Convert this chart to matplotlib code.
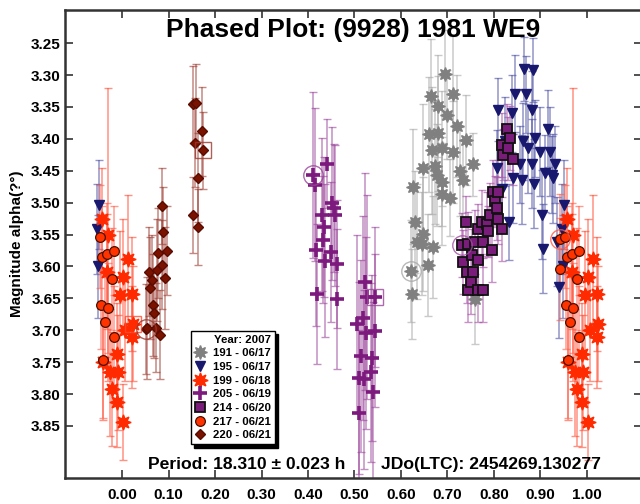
# phased light curve of (9928) 1981 WE9, 2007 sessions
import numpy as np
import matplotlib
matplotlib.use("Agg")
import matplotlib.pyplot as plt
from matplotlib.lines import Line2D

plt.rcParams['font.family'] = ['Liberation Sans', 'DejaVu Sans']
plt.rcParams['font.weight'] = 'bold'

# window of phases that are drawn (data near 0/1 is repeated)
x_show = (-0.055, 1.045)

# session 191 - 06/17
ph_191 = [0.622, 0.624, 0.626, 0.630, 0.634, 0.645, 0.647, 0.647, 0.658, 0.660, 0.665,
          0.667, 0.669, 0.673, 0.677, 0.680, 0.680, 0.688, 0.688, 0.688, 0.695, 0.699,
          0.705, 0.712, 0.712, 0.720, 0.727, 0.733, 0.740, 0.755, 0.759]
mag_191 = [3.607, 3.643, 3.475, 3.530, 3.561, 3.564, 3.446, 3.549, 3.597, 3.393, 3.333,
           3.418, 3.569, 3.443, 3.456, 3.349, 3.391, 3.415, 3.467, 3.487, 3.299, 3.362,
           3.492, 3.329, 3.420, 3.380, 3.451, 3.464, 3.402, 3.440, 3.651]
err_191 = [0.08, 0.07, 0.09, 0.08, 0.09, 0.08, 0.10, 0.09, 0.08, 0.09, 0.09,
           0.10, 0.08, 0.09, 0.08, 0.08, 0.09, 0.09, 0.07, 0.08, 0.07, 0.07,
           0.06, 0.09, 0.08, 0.08, 0.07, 0.06, 0.07, 0.05, 0.07]

# session 195 - 06/17
ph_195 = [0.806, 0.809, 0.817, 0.824, 0.832, 0.839, 0.841, 0.845, 0.856, 0.860, 0.862,
          0.865, 0.869, 0.873, 0.882, 0.882, 0.884, 0.886, 0.888, 0.899, 0.903, 0.905,
          0.910, 0.916, 0.920, 0.925, 0.927, 0.931, 0.935, 0.940, 0.950, 0.947, 0.948]
mag_195 = [3.446, 3.354, 3.478, 3.404, 3.530, 3.360, 3.462, 3.329, 3.440, 3.464, 3.404,
           3.291, 3.330, 3.415, 3.354, 3.439, 3.292, 3.470, 3.399, 3.420, 3.519, 3.572,
           3.454, 3.384, 3.420, 3.456, 3.462, 3.440, 3.561, 3.632, 3.503, 3.541, 3.600]
err_195 = [0.06, 0.05, 0.06, 0.07, 0.06, 0.06, 0.07, 0.06, 0.06, 0.07, 0.06,
           0.05, 0.06, 0.07, 0.06, 0.07, 0.05, 0.07, 0.06, 0.07, 0.07, 0.07,
           0.06, 0.06, 0.07, 0.06, 0.07, 0.06, 0.07, 0.08, 0.07, 0.07, 0.08]

# session 199 - 06/18
ph_199 = [0.957, 0.959, 0.968, 0.970, 0.974, 0.978, 0.989, 0.989, 0.991, 0.996, 0.002,
          0.002, 0.006, 0.013, 0.021, 0.021, 0.024]
mag_199 = [3.525, 3.750, 3.608, 3.550, 3.766, 3.792, 3.737, 3.813, 3.766, 3.645, 3.616,
           3.844, 3.700, 3.588, 3.643, 3.711, 3.690]
err_199 = [0.08, 0.09, 0.09, 0.23, 0.10, 0.09, 0.08, 0.07, 0.09, 0.10, 0.09,
           0.06, 0.08, 0.10, 0.09, 0.08, 0.09]

# session 205 - 06/19
ph_205 = [0.411, 0.415, 0.417, 0.419, 0.430, 0.432, 0.434, 0.437, 0.441, 0.449, 0.452,
          0.455, 0.458, 0.462, 0.462, 0.505, 0.510, 0.510, 0.514, 0.518, 0.520, 0.523,
          0.525, 0.527, 0.535, 0.538, 0.540, 0.544, 0.544]
mag_205 = [3.456, 3.472, 3.574, 3.643, 3.519, 3.558, 3.538, 3.591, 3.439, 3.577, 3.501,
           3.508, 3.520, 3.596, 3.651, 3.690, 3.775, 3.830, 3.740, 3.681, 3.777, 3.624,
           3.704, 3.648, 3.766, 3.744, 3.796, 3.701, 3.648]
err_205 = [0.13, 0.12, 0.12, 0.11, 0.12, 0.10, 0.11, 0.12, 0.07, 0.11, 0.12,
           0.10, 0.11, 0.10, 0.11, 0.14, 0.15, 0.13, 0.15, 0.16, 0.14, 0.17,
           0.15, 0.16, 0.14, 0.13, 0.14, 0.12, 0.11]

# session 214 - 06/20
ph_214 = [0.731, 0.733, 0.740, 0.742, 0.744, 0.744, 0.750, 0.753, 0.755, 0.759, 0.765,
          0.766, 0.766, 0.774, 0.776, 0.776, 0.785, 0.787, 0.791, 0.796, 0.798, 0.802,
          0.806, 0.809, 0.809, 0.817, 0.817, 0.819, 0.828, 0.830, 0.834, 0.841]
mag_214 = [3.566, 3.593, 3.530, 3.608, 3.564, 3.637, 3.625, 3.582, 3.608, 3.561, 3.637,
           3.542, 3.590, 3.530, 3.561, 3.637, 3.533, 3.545, 3.519, 3.574, 3.483, 3.498,
           3.509, 3.483, 3.525, 3.541, 3.409, 3.425, 3.385, 3.415, 3.399, 3.432]
err_214 = [0.05, 0.05, 0.04, 0.05, 0.05, 0.05, 0.05, 0.04, 0.05, 0.05, 0.05,
           0.04, 0.05, 0.05, 0.04, 0.05, 0.05, 0.04, 0.05, 0.05, 0.05, 0.04,
           0.05, 0.05, 0.04, 0.05, 0.05, 0.04, 0.04, 0.05, 0.05, 0.04]

# session 217 - 06/21
ph_217 = [0.942, 0.942, 0.953, 0.955, 0.957, 0.959, 0.963, 0.968, 0.970, 0.978, 0.983, 0.983]
mag_217 = [3.557, 3.604, 3.553, 3.660, 3.585, 3.747, 3.687, 3.580, 3.665, 3.619, 3.575, 3.711]
err_217 = [0.07, 0.08, 0.08, 0.07, 0.08, 0.09, 0.07, 0.08, 0.07, 0.08, 0.07, 0.08]

# session 220 - 06/21
ph_220 = [0.052, 0.054, 0.058, 0.060, 0.065, 0.067, 0.069, 0.073, 0.075, 0.077, 0.082,
          0.086, 0.086, 0.088, 0.092, 0.097, 0.153, 0.153, 0.157, 0.159, 0.163, 0.163,
          0.172, 0.174]
mag_220 = [3.698, 3.696, 3.608, 3.634, 3.621, 3.660, 3.673, 3.696, 3.605, 3.579, 3.707,
           3.505, 3.597, 3.546, 3.618, 3.575, 3.346, 3.519, 3.406, 3.343, 3.461, 3.538,
           3.388, 3.418]
err_220 = [0.07, 0.08, 0.07, 0.08, 0.07, 0.08, 0.07, 0.07, 0.08, 0.07, 0.07,
           0.06, 0.07, 0.07, 0.08, 0.07, 0.06, 0.06, 0.07, 0.06, 0.07, 0.06,
           0.07, 0.06]

# label, data, marker style, error bar colour, circle first point, box last point
sessions = [
    ("191 - 06/17", ph_191, mag_191, err_191, dict(marker=(8, 1, 0), ms=10, mfc='#808080', mec='#808080'), '#a8a8a8', True, False),
    ("195 - 06/17", ph_195, mag_195, err_195, dict(marker='v', ms=7, mfc='#17186e', mec='#17186e'), '#4b4ea0', False, False),
    ("199 - 06/18", ph_199, mag_199, err_199, dict(marker=(8, 1, 0), ms=11, mfc='#ff2a00', mec='#ff2a00'), '#ff4a30', False, True),
    ("205 - 06/19", ph_205, mag_205, err_205, dict(marker='+', ms=10, mew=2.6, mfc='#7d1a7d', mec='#7d1a7d'), '#9a459a', True, True),
    ("214 - 06/20", ph_214, mag_214, err_214, dict(marker='s', ms=7.5, mew=1.3, mfc='#7a1d7a', mec='#111111'), '#a24ca2', True, False),
    ("217 - 06/21", ph_217, mag_217, err_217, dict(marker='o', ms=7, mew=0.9, mfc='#ff3300', mec='#4a0f00'), '#ff5a45', True, False),
    ("220 - 06/21", ph_220, mag_220, err_220, dict(marker='D', ms=5.5, mfc='#7a1200', mec='#5a0c00'), '#9a3a30', True, True),
]

fig = plt.figure(figsize=(6.4, 5.04), dpi=100)
ax = fig.add_axes([65 / 640, 26 / 504, 577 / 640, 468 / 504])

handles = []
for label, ph, mag, err, mk, ecol, ring, box in sessions:
    ph = np.array(ph); mag = np.array(mag); err = np.array(err)
    xs, ys, es = [], [], []
    for shift in (-1, 0, 1):
        q = ph + shift
        keep = (q >= x_show[0]) & (q <= x_show[1])
        xs.append(q[keep]); ys.append(mag[keep]); es.append(err[keep])
    xs = np.concatenate(xs); ys = np.concatenate(ys); es = np.concatenate(es)
    ax.errorbar(xs, ys, yerr=es, fmt='none', ecolor=ecol, elinewidth=1.1,
                capsize=3, capthick=1.0, alpha=0.6, zorder=2)
    ax.plot(xs, ys, ls='none', zorder=3, **mk)
    if ring:
        ax.plot(ph[0], mag[0], ls='none', marker='o', ms=14, mfc='none',
                mec=ecol, mew=1.0, alpha=0.8, zorder=4)
    if box:
        ax.plot(ph[-1], mag[-1], ls='none', marker='s', ms=12, mfc='none',
                mec=ecol, mew=1.0, alpha=0.8, zorder=4)
    handles.append(Line2D([], [], ls='none', label=label, **mk))

ax.set_xlim(-0.1226, 1.1183)
ax.set_ylim(3.9315, 3.198)
ax.set_xticks(np.arange(0, 1.01, 0.1))
ax.set_yticks(np.arange(3.25, 3.851, 0.05))
ax.xaxis.set_major_formatter('{x:.2f}')
ax.yaxis.set_major_formatter('{x:.2f}')
ax.tick_params(axis='both', direction='in', length=6, width=1.2, color='#333333',
               labelsize=11, top=True, right=True)
ax.tick_params(axis='x', pad=7)
ax.tick_params(axis='y', pad=3)
for lab in ax.get_xticklabels() + ax.get_yticklabels():
    lab.set_fontweight('bold')
for sp in ax.spines.values():
    sp.set_linewidth(1.8)
    sp.set_color('#333333')

ax.set_ylabel('Magnitude alpha(?°)', fontsize=11, fontweight='bold', labelpad=5)

ax.text(0.5, 0.957, 'Phased Plot: (9928) 1981 WE9', transform=ax.transAxes,
        ha='center', va='center', fontsize=19, fontweight='bold')
ax.text(0.144, 0.028, 'Period: 18.310 ± 0.023 h', transform=ax.transAxes,
        ha='left', va='center', fontsize=12.6, fontweight='bold')
ax.text(0.548, 0.028, 'JDo(LTC): 2454269.130277', transform=ax.transAxes,
        ha='left', va='center', fontsize=12.6, fontweight='bold')

leg = ax.legend(handles=handles, title='Year: 2007', loc='upper left',
                bbox_to_anchor=(0.208, 0.327), fontsize=8.2, title_fontsize=8.2,
                alignment='right', handlelength=1.0, handletextpad=0.6,
                labelspacing=0.32, borderpad=0.35, framealpha=1, fancybox=False,
                edgecolor='black',
                shadow={'color': 'black', 'alpha': 1, 'ox': 2.5, 'oy': -2.5})
leg.get_frame().set_linewidth(1.0)
leg.get_title().set_fontweight('bold')
for t in leg.get_texts():
    t.set_fontweight('bold')
leg.set_zorder(10)

fig.savefig('out.png', dpi=100)
